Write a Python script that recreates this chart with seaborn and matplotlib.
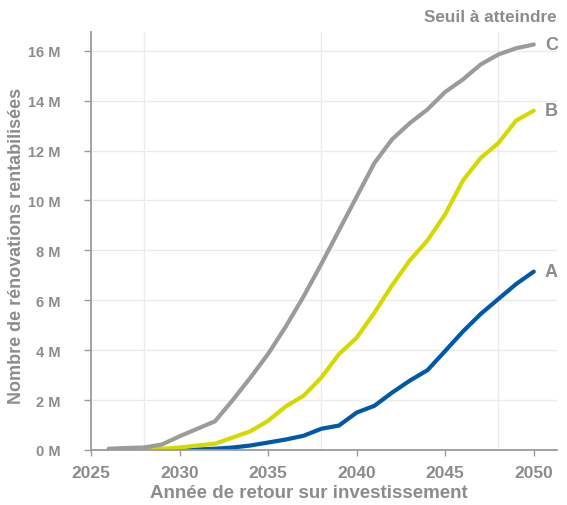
import matplotlib
matplotlib.use("Agg")
import matplotlib.pyplot as plt
from matplotlib.ticker import FixedLocator, FuncFormatter
import seaborn as sns
import pandas as pd

# ---- data (millions of renovations) ----
years_A = list(range(2030, 2051))
values_A = [0.0, 0.02, 0.05, 0.1, 0.18, 0.3, 0.42, 0.57, 0.85, 0.98, 1.5, 1.77,
            2.3, 2.78, 3.2, 3.97, 4.75, 5.45, 6.05, 6.65, 7.15]
years_B = list(range(2028, 2051))
values_B = [0.03, 0.05, 0.1, 0.18, 0.25, 0.5, 0.75, 1.17, 1.75, 2.17, 2.9, 3.84,
            4.5, 5.5, 6.6, 7.6, 8.4, 9.45, 10.8, 11.7, 12.3, 13.2, 13.6]
years_C = list(range(2026, 2051))
values_C = [0.05, 0.08, 0.1, 0.22, 0.55, 0.85, 1.15, 2.0, 2.9, 3.85, 4.95, 6.15,
            7.45, 8.8, 10.15, 11.5, 12.45, 13.1, 13.65, 14.35, 14.85, 15.45, 15.85,
            16.1, 16.25]
series_names = ["A", "B", "C"]
colors = {"A": "#0058a8", "B": "#d4da00", "C": "#9b9b9b"}
x_ticks = [2025, 2030, 2035, 2040, 2045, 2050]
x_grid = [2028, 2038, 2048]
y_ticks = [0, 2, 4, 6, 8, 10, 12, 14, 16]
x_label = "Année de retour sur investissement"
y_label = "Nombre de rénovations rentabilisées"
legend_title = "Seuil à atteindre"

frames = []
for name, yrs, vals in [("A", years_A, values_A), ("B", years_B, values_B), ("C", years_C, values_C)]:
    frames.append(pd.DataFrame({"year": yrs, "value": vals, "seuil": name}))
df = pd.concat(frames, ignore_index=True)

sns.set_theme(style="white")
plt.rcParams["font.family"] = ["Liberation Sans", "DejaVu Sans"]
plt.rcParams["font.weight"] = "bold"
TXT = "#8c8c8c"

fig = plt.figure(figsize=(5.67, 5.06), dpi=100)
ax = fig.add_axes([0.1605, 0.1087, 0.8215, 0.826])

sns.lineplot(data=df, x="year", y="value", hue="seuil", palette=colors,
             hue_order=series_names, linewidth=3.0, legend=False, ax=ax)

ax.set_xlim(2025, 2051.3)
ax.set_ylim(0, 16.75)

ax.xaxis.set_major_locator(FixedLocator(x_ticks))
ax.xaxis.set_minor_locator(FixedLocator(x_grid))
ax.yaxis.set_major_locator(FixedLocator(y_ticks))
ax.yaxis.set_major_formatter(FuncFormatter(lambda v, p: f"{int(v)} M"))

ax.grid(False)
ax.grid(True, axis="y", which="major", color="#ebebeb", linewidth=1.0)
ax.grid(True, axis="x", which="minor", color="#ebebeb", linewidth=1.0)
ax.set_axisbelow(True)

for s in ["top", "right"]:
    ax.spines[s].set_visible(False)
for s in ["left", "bottom"]:
    ax.spines[s].set_color("#9b9b9b")
    ax.spines[s].set_linewidth(1.3)

ax.tick_params(axis="x", which="major", bottom=True, length=4, width=1, color="#9b9b9b",
               pad=7, labelsize=12.5, labelcolor=TXT)
ax.tick_params(axis="x", which="minor", bottom=False, length=0)
ax.tick_params(axis="y", which="major", left=True, length=5, width=1, color="#9b9b9b",
               pad=17, labelsize=10.5, labelcolor=TXT)

ax.set_xlabel(x_label, fontsize=13.5, fontweight="bold", color=TXT)
ax.set_ylabel(y_label, fontsize=13, fontweight="bold", color=TXT)
ax.xaxis.set_label_coords(0.468, -0.082)
ax.yaxis.set_label_coords(-0.141, 0.49)

# end-of-line labels
for name, yrs, vals in [("A", years_A, values_A), ("B", years_B, values_B), ("C", years_C, values_C)]:
    ax.annotate(name, xy=(yrs[-1], vals[-1]), xytext=(8, 0), textcoords="offset points",
                ha="left", va="center", fontsize=13, fontweight="bold", color=TXT)

fig.text(0.982, 0.966, legend_title, ha="right", va="center", fontsize=12.3,
         fontweight="bold", color=TXT)

fig.savefig("out.png", dpi=100)
